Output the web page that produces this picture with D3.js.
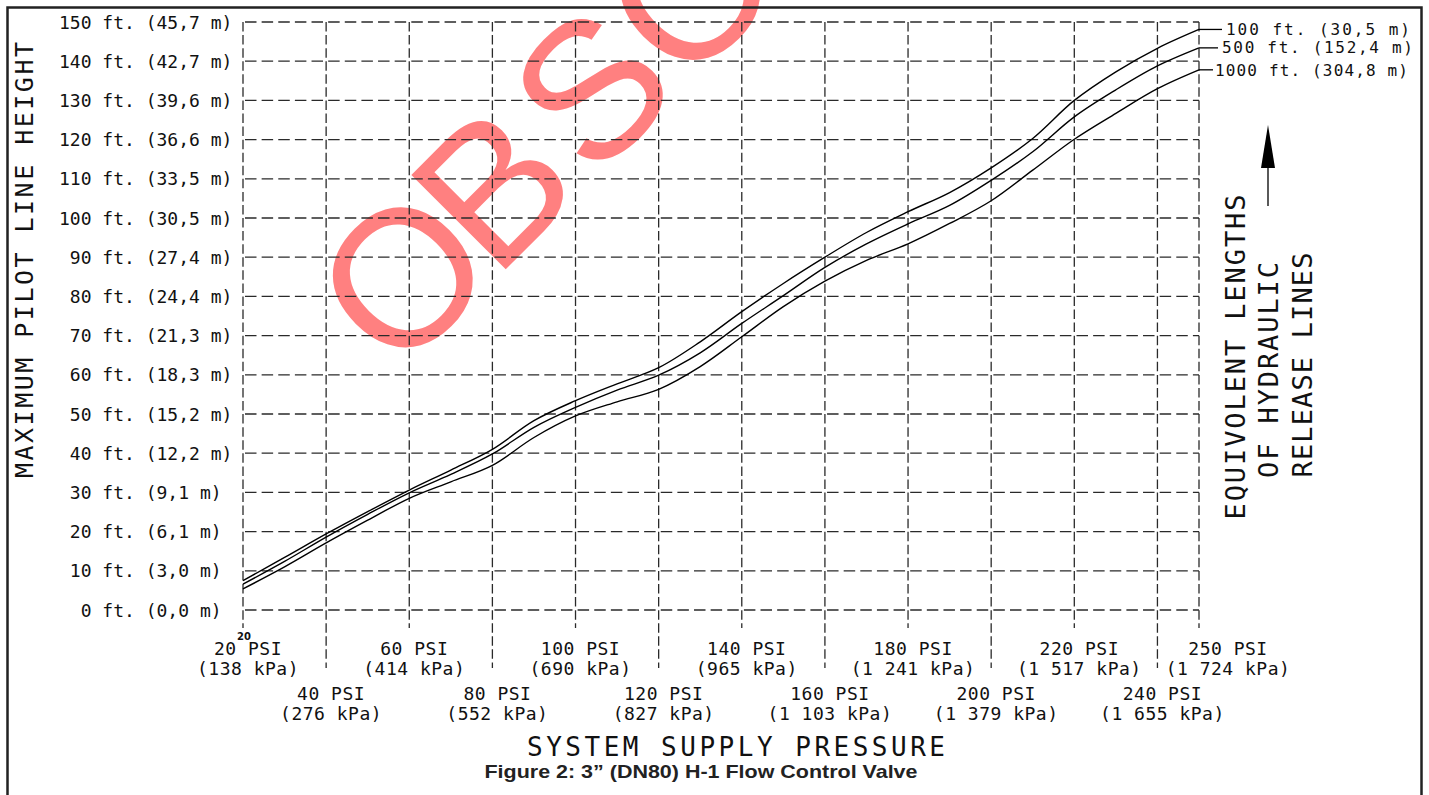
<!DOCTYPE html>
<html><head><meta charset="utf-8">
<script src="https://cdn.jsdelivr.net/npm/d3@7"></script>
<style>
html,body{margin:0;padding:0;background:#fff;}
svg{display:block;}
.cad{font-family:"DejaVu Sans Mono",monospace;fill:#111;}
</style></head>
<body>
<svg id="chart" width="1429" height="795"></svg>
<script>
// ---------- data ----------
const pressurePsi = [20,30,40,50,60,70,80,90,100,110,120,130,140,150,160,170,180,190,200,210,220,230,240,250];
const height100ft  = [7.5,13.4,19.4,25.1,30.6,35.7,41.0,48.3,53.4,57.7,61.8,68.4,76.1,83.3,90.0,96.3,101.6,106.5,112.8,120.3,130.0,137.3,143.3,148.1];
const height500ft  = [6.6,12.4,18.6,24.4,29.9,34.6,39.8,46.6,51.7,56.1,59.9,65.6,73.1,80.2,87.4,93.4,98.5,103.2,109.6,116.9,125.8,132.7,138.8,143.4];
const height1000ft = [5.4,11.0,17.1,22.9,28.5,32.7,36.9,44.0,49.5,53.1,56.3,62.1,69.7,77.4,83.9,89.2,93.4,98.6,104.4,112.2,120.1,126.7,133.0,137.8];
const seriesLabels = ["100 ft. (30,5 m)","500 ft. (152,4 m)","1000 ft. (304,8 m)"];

const yTicksFt = [0,10,20,30,40,50,60,70,80,90,100,110,120,130,140,150];
const yTicksM  = ["0,0","3,0","6,1","9,1","12,2","15,2","18,3","21,3","24,4","27,4","30,5","33,5","36,6","39,6","42,7","45,7"];
const xTicksPsi = [20,40,60,80,100,120,140,160,180,200,220,240,250];
const xTicksKpa = ["138","276","414","552","690","827","965","1 103","1 241","1 379","1 517","1 655","1 724"];

const yTitle = "MAXIMUM PILOT LINE HEIGHT";
const xTitle = "SYSTEM SUPPLY PRESSURE";
const legendTitle = ["EQUIVOLENT LENGTHS","OF HYDRAULIC","RELEASE LINES"];
const caption = "Figure 2: 3\u201D (DN80) H-1 Flow Control Valve";
const watermark = "OBSOLETE";

// ---------- drawing ----------
const svg = d3.select("#chart");
const x = d3.scaleLinear().domain([20,250]).range([243,1199]);
const y = d3.scaleLinear().domain([0,150]).range([610,22]);

// watermark (under everything)
svg.append("text")
  .attr("transform","translate(397,378) rotate(-45)")
  .attr("font-family","Liberation Sans, Arial, sans-serif")
  .attr("font-size",194)
  .attr("fill","#ff8080")
  .attr("dx","0 -13 10 0 0 0 0 0")
  .text(watermark);

const grid = svg.append("g").attr("stroke","#2a2a2a").attr("stroke-width",1.3).attr("fill","none");
// horizontal grid lines
grid.selectAll("line.h").data(yTicksFt).join("line")
  .attr("x1",x(20)).attr("x2",x(250))
  .attr("y1",d=>y(d)).attr("y2",d=>y(d))
  .attr("stroke-dasharray","11.5,5.13").attr("stroke-dashoffset",-2);
// vertical grid lines (alternate rows extend further down)
grid.selectAll("line.v").data(xTicksPsi).join("line")
  .attr("x1",d=>x(d)).attr("x2",d=>x(d))
  .attr("y1",y(150))
  .attr("y2",(d,i)=> (i%2===1 && i<xTicksPsi.length-1) ? 668 : 628)
  .attr("stroke-dasharray","9.5,3.57");

// y tick labels
svg.append("g").attr("class","cad").attr("font-size",18)
  .selectAll("text").data(yTicksFt).join("text")
  .attr("x",59).attr("y",d=>y(d)+6.5)
  .style("white-space","pre")
  .text((d,i)=> String(d).padStart(3," ")+" ft. ("+yTicksM[i]+" m)");

// x tick labels
const xl = svg.append("g").attr("class","cad").attr("font-size",18).attr("letter-spacing",0.5).attr("text-anchor","middle");
xTicksPsi.forEach((p,i)=>{
  const last = i===xTicksPsi.length-1;
  const lower = (i%2===1) && !last;
  const cx = x(p) + (last ? 29 : 5);
  const by = lower ? 700 : 655;
  xl.append("text").attr("x",cx).attr("y",by).text(p+" PSI");
  xl.append("text").attr("x",cx).attr("y",by+20).text("("+xTicksKpa[i]+" kPa)");
});
svg.append("text").attr("x",x(20)+1).attr("y",640).attr("text-anchor","middle")
  .attr("font-family","DejaVu Sans, sans-serif").attr("font-size",10).attr("font-weight","bold").attr("fill","#111").text("20");

// curves
const series = [height100ft,height500ft,height1000ft];
const line = d3.line().x((d,i)=>x(pressurePsi[i])).y(d=>y(d)).curve(d3.curveCatmullRom.alpha(0.5));
svg.append("g").attr("fill","none").attr("stroke","#000").attr("stroke-width",1.4)
  .selectAll("path").data(series).join("path").attr("d",line);

// series labels with leaders
const leaderEnd = [1222,1218,1213];
const labelStart = [1226,1222,1215];
const labelLen = [184,191,193];
const labelBase = [35,53,76];
series.forEach((s,i)=>{
  const yy = y(s[s.length-1]);
  svg.append("line").attr("x1",x(250)).attr("x2",leaderEnd[i]).attr("y1",yy).attr("y2",yy)
    .attr("stroke","#000").attr("stroke-width",1.3);
  svg.append("text").attr("class","cad").attr("font-size",16)
    .attr("x",labelStart[i]).attr("y",labelBase[i])
    .attr("textLength",labelLen[i]).attr("lengthAdjust","spacing")
    .style("white-space","pre").text(seriesLabels[i]);
});

// axis titles
svg.append("text").attr("class","cad").attr("font-size",25).attr("text-anchor","middle")
  .attr("transform","translate(33,260) rotate(-90)")
  .attr("textLength",436).attr("lengthAdjust","spacing").text(yTitle);
svg.append("text").attr("class","cad").attr("font-size",26).attr("text-anchor","middle")
  .attr("x",736).attr("y",756)
  .attr("textLength",418).attr("lengthAdjust","spacing").text(xTitle);

// right legend title and arrow
const ltX = [1245,1278,1312], ltY = [357,370,365], ltLen = [325,216,225];
legendTitle.forEach((t,i)=>{
  svg.append("text").attr("class","cad").attr("font-size",27).attr("text-anchor","middle")
    .attr("transform",`translate(${ltX[i]},${ltY[i]}) rotate(-90)`)
    .attr("textLength",ltLen[i]).attr("lengthAdjust","spacing").text(t);
});
svg.append("line").attr("x1",1268).attr("x2",1268).attr("y1",206).attr("y2",166).attr("stroke","#000").attr("stroke-width",1.3);
svg.append("path").attr("d","M1268,125 L1275,168 L1261,168 Z").attr("fill","#000");

// caption
svg.append("text").attr("x",701).attr("y",778).attr("text-anchor","middle")
  .attr("font-family","Liberation Sans, Arial, sans-serif").attr("font-weight","bold").attr("font-size",18.5)
  .attr("fill","#222").attr("textLength",433).attr("lengthAdjust","spacingAndGlyphs").text(caption);

// border
svg.append("rect").attr("x",7.5).attr("y",7.5).attr("width",1414).attr("height",800)
  .attr("fill","none").attr("stroke","#222").attr("stroke-width",2.5);
</script>
</body></html>
